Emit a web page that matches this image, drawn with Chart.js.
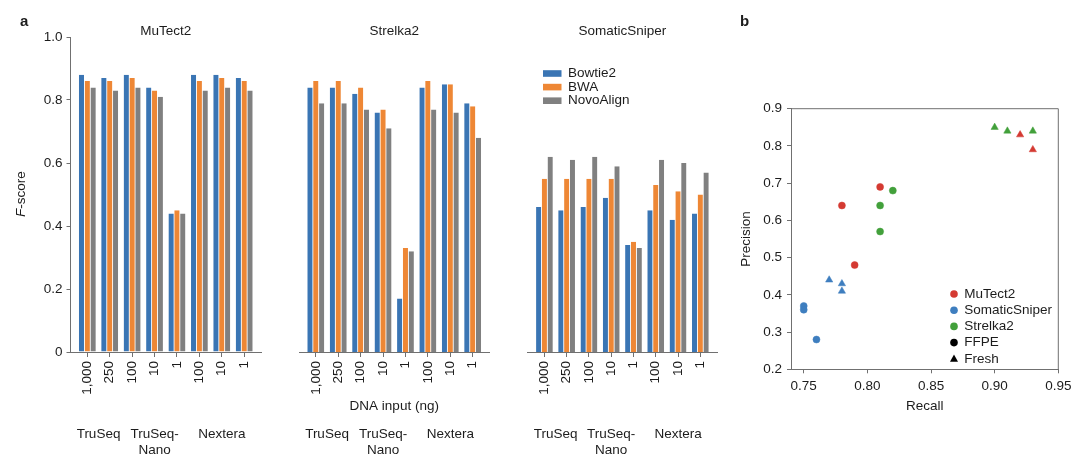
<!DOCTYPE html>
<html><head><meta charset="utf-8">
<script src="https://cdn.jsdelivr.net/npm/chart.js@4.4.1/dist/chart.umd.min.js"></script>
<style>
html,body{margin:0;padding:0;background:#fff;}
#wrap{position:relative;width:1080px;height:473px;overflow:hidden;background:#fff;}
.c{position:absolute;top:0;height:473px;}
</style></head><body>
<div id="wrap">
<div class="c" style="left:0px;width:270px"><canvas id="c1" width="270" height="473"></canvas></div>
<div class="c" style="left:275px;width:230px"><canvas id="c2" width="230" height="473"></canvas></div>
<div class="c" style="left:505px;width:230px"><canvas id="c3" width="230" height="473"></canvas></div>
<div class="c" style="left:730px;width:350px"><canvas id="c4" width="350" height="473"></canvas></div>
</div>
<script>
// ---------- data ----------
const categories = ['1,000', '250', '100', '10', '1', '100', '10', '1'];
const aligners = ['Bowtie2', 'BWA', 'NovoAlign'];
const callers = ['MuTect2', 'Strelka2', 'SomaticSniper'];
const groupLabels = [['TruSeq'], ['TruSeq-', 'Nano'], ['Nextera']];
const groupSpans = [[0, 1], [2, 4], [5, 7]];
const fscoreTicks = [0, 0.2, 0.4, 0.6, 0.8, 1.0];

const mutect2Bowtie2 = [0.88, 0.87, 0.88, 0.84, 0.44, 0.88, 0.88, 0.87];
const mutect2BWA     = [0.86, 0.86, 0.87, 0.83, 0.45, 0.86, 0.87, 0.86];
const mutect2Novo    = [0.84, 0.83, 0.84, 0.81, 0.44, 0.83, 0.84, 0.83];

const strelka2Bowtie2 = [0.84, 0.84, 0.82, 0.76, 0.17, 0.84, 0.85, 0.79];
const strelka2BWA     = [0.86, 0.86, 0.84, 0.77, 0.33, 0.86, 0.85, 0.78];
const strelka2Novo    = [0.79, 0.79, 0.77, 0.71, 0.32, 0.77, 0.76, 0.68];

const sniperBowtie2 = [0.46, 0.45, 0.46, 0.49, 0.34, 0.45, 0.42, 0.44];
const sniperBWA     = [0.55, 0.55, 0.55, 0.55, 0.35, 0.53, 0.51, 0.50];
const sniperNovo    = [0.62, 0.61, 0.62, 0.59, 0.33, 0.61, 0.60, 0.57];

const recallTicks = [0.75, 0.80, 0.85, 0.90, 0.95];
const precisionTicks = [0.2, 0.3, 0.4, 0.5, 0.6, 0.7, 0.8, 0.9];

const mutect2FFPERecall = [0.78, 0.81, 0.79];
const mutect2FFPEPrecision = [0.64, 0.69, 0.48];
const mutect2FreshRecall = [0.92, 0.93];
const mutect2FreshPrecision = [0.83, 0.79];

const sniperFFPERecall = [0.75, 0.75, 0.76];
const sniperFFPEPrecision = [0.37, 0.36, 0.28];
const sniperFreshRecall = [0.77, 0.78, 0.78];
const sniperFreshPrecision = [0.44, 0.43, 0.41];

const strelka2FFPERecall = [0.81, 0.82, 0.81];
const strelka2FFPEPrecision = [0.64, 0.68, 0.57];
const strelka2FreshRecall = [0.90, 0.91, 0.93];
const strelka2FreshPrecision = [0.85, 0.84, 0.84];

const sampleTypes = ['FFPE', 'Fresh'];

// ---------- styles ----------
const FONT = '"Liberation Sans", Arial, Helvetica, sans-serif';
const FS = 13.5;
const TEXT = '#1c1c1c';
const AXIS = '#707070';
const barColors = ['#3a75b4', '#ee8735', '#808080'];
const callerColors = { MuTect2: '#d43a32', SomaticSniper: '#3e7ebf', Strelka2: '#42a03b' };

Chart.defaults.font.family = FONT;
Chart.defaults.font.size = FS;
Chart.defaults.color = TEXT;

function txt(ctx, s, x, y, opt) {
  opt = opt || {};
  ctx.save();
  ctx.font = (opt.weight || 'normal') + ' ' + (opt.size || FS) + 'px ' + FONT;
  ctx.fillStyle = TEXT;
  ctx.textAlign = opt.align || 'center';
  ctx.textBaseline = opt.baseline || 'middle';
  ctx.fillText(s, x, y);
  ctx.restore();
}

function barChart(id, title, series, o) {
  const annot = {
    id: 'annot' + id,
    afterDraw(chart) {
      const ctx = chart.ctx, xs = chart.scales.x, ca = chart.chartArea;
      txt(ctx, title, (ca.left + ca.right) / 2, 31.5);
      groupLabels.forEach((lines, g) => {
        const cx = xs.getPixelForValue((groupSpans[g][0] + groupSpans[g][1]) / 2);
        lines.forEach((l, k) => txt(ctx, l, cx, 434 + k * 16.7));
      });
      if (o.extra) o.extra(chart);
    }
  };
  return new Chart(document.getElementById(id), {
    type: 'bar',
    data: {
      datasets: series.map((vals, k) => ({
        label: aligners[k],
        data: vals.map((v, i) => ({ x: i, y: v })),
        backgroundColor: barColors[k],
        borderColor: '#ffffff',
        borderWidth: { left: 0.4, right: 0.4, top: 0, bottom: 0 },
        borderSkipped: false,
        categoryPercentage: 0.78,
        barPercentage: 1
      }))
    },
    options: {
      responsive: false,
      animation: false,
      events: [],
      layout: { padding: { left: o.padL, right: o.padR, top: 37, bottom: 0 } },
      plugins: { legend: { display: false }, tooltip: { enabled: false } },
      scales: {
        x: {
          type: 'linear', min: -0.75, max: 7.75, offset: false,
          afterBuildTicks: s => { s.ticks = categories.map((_, i) => ({ value: i })); },
          afterFit: s => { s.height = 121; },
          ticks: { autoSkip: false, minRotation: 90, maxRotation: 90, padding: 4, color: TEXT,
                   font: { size: FS }, callback: v => categories[v] },
          grid: { display: true, offset: false, drawOnChartArea: false, drawTicks: true, tickLength: 5, color: AXIS },
          border: { display: true, color: AXIS, width: 1 }
        },
        y: {
          display: o.showY, min: 0, max: 1,
          afterBuildTicks: s => { s.ticks = fscoreTicks.map(v => ({ value: v })); },
          afterFit: s => { if (o.showY) s.width = 70.5; },
          ticks: { padding: 4, color: TEXT, font: { size: FS }, callback: v => (v === 0 ? '0' : v.toFixed(1)) },
          grid: { display: true, drawOnChartArea: false, drawTicks: true, tickLength: 4, color: AXIS },
          border: { display: true, color: AXIS, width: 1 }
        }
      }
    },
    plugins: [annot]
  });
}

barChart('c1', callers[0], [mutect2Bowtie2, mutect2BWA, mutect2Novo], {
  padL: 0, padR: 9, showY: true,
  extra(chart) {
    const ctx = chart.ctx;
    txt(ctx, 'a', 20, 26, { weight: 'bold', size: 15, align: 'left', baseline: 'alphabetic' });
    ctx.save();
    ctx.translate(21, 194);
    ctx.rotate(-Math.PI / 2);
    ctx.font = 'italic ' + FS + 'px ' + FONT;
    const w1 = ctx.measureText('F').width;
    ctx.font = FS + 'px ' + FONT;
    const w2 = ctx.measureText('-score').width;
    const x0 = -(w1 + w2) / 2;
    ctx.fillStyle = TEXT; ctx.textBaseline = 'middle'; ctx.textAlign = 'left';
    ctx.font = 'italic ' + FS + 'px ' + FONT; ctx.fillText('F', x0, 0);
    ctx.font = FS + 'px ' + FONT; ctx.fillText('-score', x0 + w1, 0);
    ctx.restore();
  }
});
barChart('c2', callers[1], [strelka2Bowtie2, strelka2BWA, strelka2Novo], {
  padL: 24, padR: 15.5, showY: false,
  extra(chart) {
    const ca = chart.chartArea;
    txt(chart.ctx, 'DNA input (ng)', (ca.left + ca.right) / 2, 406.7);
  }
});
barChart('c3', callers[2], [sniperBowtie2, sniperBWA, sniperNovo], {
  padL: 22.7, padR: 18, showY: false,
  extra(chart) {
    const ctx = chart.ctx;
    aligners.forEach((a, k) => {
      const y = 73.5 + k * 13.6;
      ctx.fillStyle = barColors[k];
      ctx.fillRect(38, y - 3.3, 18.5, 6.6);
      txt(ctx, a, 63, y, { align: 'left' });
    });
  }
});

// ---------- scatter ----------
function pts(rx, py) { return rx.map((r, i) => ({ x: r, y: py[i] })); }
const scatterSets = [
  ['MuTect2', 'FFPE', pts(mutect2FFPERecall, mutect2FFPEPrecision)],
  ['MuTect2', 'Fresh', pts(mutect2FreshRecall, mutect2FreshPrecision)],
  ['SomaticSniper', 'FFPE', pts(sniperFFPERecall, sniperFFPEPrecision)],
  ['SomaticSniper', 'Fresh', pts(sniperFreshRecall, sniperFreshPrecision)],
  ['Strelka2', 'FFPE', pts(strelka2FFPERecall, strelka2FFPEPrecision)],
  ['Strelka2', 'Fresh', pts(strelka2FreshRecall, strelka2FreshPrecision)]
];

const scatterAnnot = {
  id: 'scatterAnnot',
  afterDraw(chart) {
    const ctx = chart.ctx, ca = chart.chartArea;
    ctx.save();
    ctx.strokeStyle = AXIS; ctx.lineWidth = 1;
    ctx.beginPath();
    ctx.moveTo(ca.left, ca.top); ctx.lineTo(ca.right, ca.top); ctx.lineTo(ca.right, ca.bottom);
    ctx.stroke();
    ctx.restore();
    txt(ctx, 'b', 10, 26, { weight: 'bold', size: 15, align: 'left', baseline: 'alphabetic' });
    txt(ctx, 'Recall', (ca.left + ca.right) / 2, 406.7);
    ctx.save();
    ctx.translate(16.7, (ca.top + ca.bottom) / 2);
    ctx.rotate(-Math.PI / 2);
    txt(ctx, 'Precision', 0, 0);
    ctx.restore();
    const items = [
      ['MuTect2', callerColors.MuTect2, 'circle'],
      ['SomaticSniper', callerColors.SomaticSniper, 'circle'],
      ['Strelka2', callerColors.Strelka2, 'circle'],
      [sampleTypes[0], '#000000', 'circle'],
      [sampleTypes[1], '#000000', 'triangle']
    ];
    items.forEach((it, k) => {
      const y = 294 + k * 16.2, x = 224;
      ctx.save();
      ctx.fillStyle = it[1];
      ctx.beginPath();
      if (it[2] === 'circle') { ctx.arc(x, y, 3.8, 0, Math.PI * 2); }
      else { ctx.moveTo(x, y - 4.2); ctx.lineTo(x + 4, y + 2.9); ctx.lineTo(x - 4, y + 2.9); ctx.closePath(); }
      ctx.fill();
      ctx.restore();
      txt(ctx, it[0], 234.3, y, { align: 'left' });
    });
  }
};

new Chart(document.getElementById('c4'), {
  type: 'scatter',
  data: {
    datasets: scatterSets.map(s => ({
      label: s[0] + ' ' + s[1],
      data: s[2],
      backgroundColor: callerColors[s[0]],
      borderColor: callerColors[s[0]],
      borderWidth: 0.5,
      pointStyle: s[1] === 'FFPE' ? 'circle' : 'triangle',
      pointRadius: s[1] === 'FFPE' ? 3.5 : 4.2
    }))
  },
  options: {
    responsive: false,
    animation: false,
    events: [],
    layout: { padding: { left: 0, right: 21.7, top: 108.7, bottom: 0 } },
    plugins: { legend: { display: false }, tooltip: { enabled: false } },
    scales: {
      x: {
        type: 'linear', min: 0.74, max: 0.95,
        afterBuildTicks: s => { s.ticks = recallTicks.map(v => ({ value: v })); },
        afterFit: s => { s.height = 103.7; },
        ticks: { padding: 5, color: TEXT, font: { size: FS }, callback: v => v.toFixed(2), maxRotation: 0 },
        grid: { display: true, drawOnChartArea: false, drawTicks: true, tickLength: 4, color: AXIS },
        border: { display: true, color: AXIS, width: 1 }
      },
      y: {
        type: 'linear', min: 0.2, max: 0.9,
        afterBuildTicks: s => { s.ticks = precisionTicks.map(v => ({ value: v })); },
        afterFit: s => { s.width = 61; },
        ticks: { padding: 5, color: TEXT, font: { size: FS }, callback: v => v.toFixed(1) },
        grid: { display: true, drawOnChartArea: false, drawTicks: true, tickLength: 4, color: AXIS },
        border: { display: true, color: AXIS, width: 1 }
      }
    }
  },
  plugins: [scatterAnnot]
});
</script>
</body></html>
